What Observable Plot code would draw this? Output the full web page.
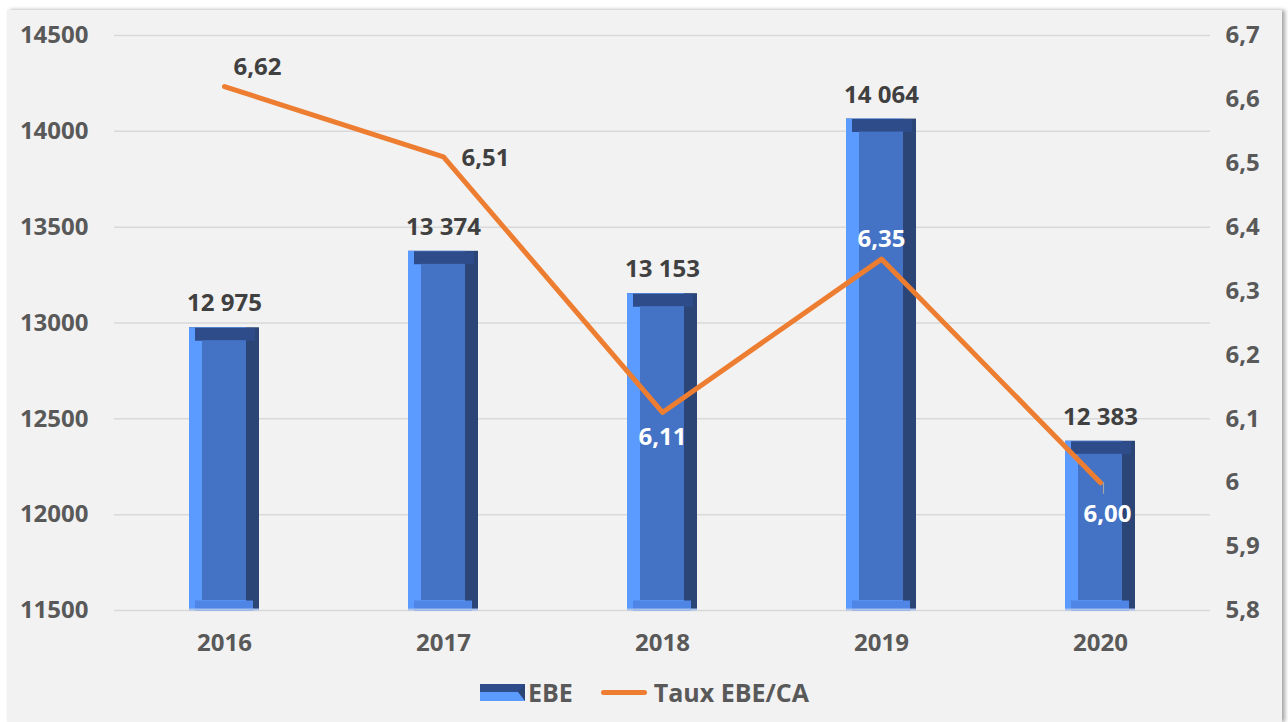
<!DOCTYPE html>
<html><head><meta charset="utf-8">
<script src="https://cdn.jsdelivr.net/npm/d3@7"></script>
<script src="https://cdn.jsdelivr.net/npm/@observablehq/plot@0.6"></script>
<style>
html,body{margin:0;padding:0;background:#fff;}
#panel{position:absolute;left:7px;top:10px;width:1275px;height:712px;background:#f2f2f2;box-shadow:3px 0 4px rgba(0,0,0,0.35);font-family:"Open Sans",sans-serif;overflow:hidden;}
#chart{position:absolute;left:0;top:0;}
#legend{position:absolute;left:0;top:663px;width:1275px;height:38px;display:flex;justify-content:center;align-items:center;font-size:25px;font-weight:bold;color:#595959;}
.sw{display:inline-block;box-sizing:border-box;width:45px;height:17px;border-top:8px solid #2e4c8a;border-bottom:9px solid #5b9bff;border-right:7px solid #2a4576;margin-right:3px;}
.ln{display:inline-block;width:46px;height:5px;border-radius:3px;background:#ed7d31;margin-left:28px;margin-right:7px;}
</style></head>
<body>
<div id="panel"><div id="chart"></div>
<div id="legend"><span class="sw"></span><span>EBE</span><span class="ln"></span><span>Taux EBE/CA</span></div>
</div>
<script>
const years = ["2016", "2017", "2018", "2019", "2020"];
const ebe = [12975, 13374, 13153, 14064, 12383];
const taux = [6.62, 6.51, 6.11, 6.35, 6.00];
const leftTicks = [11500, 12000, 12500, 13000, 13500, 14000, 14500];
const rightTicks = [5.8, 5.9, 6.0, 6.1, 6.2, 6.3, 6.4, 6.5, 6.6, 6.7];

const L = [11500, 14500], R = [5.8, 6.7];
const toLeft = v => L[0] + (v - R[0]) / (R[1] - R[0]) * (L[1] - L[0]);
const fromLeft = v => R[0] + (v - L[0]) / (L[1] - L[0]) * (R[1] - R[0]);
const data = years.map((year, i) => ({year, ebe: ebe[i], taux: taux[i], tauxL: toLeft(taux[i]), i}));

const fmtRight = v => { const r = Math.round(v * 10) / 10; return String(r).replace(".", ","); };
const fmtRate = v => d3.format(".2f")(v).replace(".", ",");
const fmtEbe = v => d3.format(",")(v).replace(/,/g, " ");

const dark = "#404040";
const lbl = {fontSize: 24, fontWeight: "bold"};

const chart = Plot.plot({
  width: 1275, height: 660,
  marginLeft: 107, marginRight: 72, marginTop: 25, marginBottom: 60,
  style: {fontFamily: "'Open Sans', sans-serif", fontSize: "24px", fontWeight: "bold", color: "#595959", background: "transparent"},
  x: {domain: years, paddingInner: 0.68, paddingOuter: 0.34, label: null},
  y: {domain: L, label: null},
  marks: [
    Plot.gridY(leftTicks, {stroke: "#d9d9d9", strokeOpacity: 1, strokeWidth: 1.5}),
    // bevelled bars
    Plot.barY(data, {x: "year", y1: L[0], y2: "ebe", fill: "#2a4576"}),
    Plot.barY(data, {x: "year", y1: L[0], y2: "ebe", fill: "#5b9bff", insetRight: 13}),
    Plot.tickY(data, {x: "year", y: "ebe", stroke: "#2e4c8a", strokeWidth: 13, dy: 6.5, insetLeft: 6, insetRight: 4}),
    Plot.tickY(data, {x: "year", y: L[0], stroke: "#4f86e6", strokeWidth: 10, dy: -5, insetLeft: 6, insetRight: 6}),
    Plot.barY(data, {x: "year", y1: L[0], y2: "ebe", fill: "#4472c4", insetLeft: 13, insetRight: 13, insetTop: 13, insetBottom: 10}),
    Plot.tickY(data, {x: "year", y: L[0], stroke: "#a9c1ee", strokeWidth: 2, dy: -1}),
    // axes
    Plot.axisY(leftTicks, {anchor: "left", tickSize: 0, tickPadding: 26, tickFormat: d => String(d), label: null}),
    Plot.axisY(rightTicks.map(toLeft), {anchor: "right", tickSize: 0, tickPadding: 15, tickFormat: d => fmtRight(fromLeft(d)), label: null}),
    Plot.axisX({tickSize: 0, tickPadding: 23, label: null}),
    // line
    Plot.line(data, {x: "year", y: "tauxL", stroke: "#ed7d31", strokeWidth: 5, strokeLinecap: "round", strokeLinejoin: "round"}),
    Plot.ruleX(data.filter(d => d.i === 4), {x: "year", y1: d => d.tauxL, y2: d => d.tauxL - 60, stroke: "#a6a6a6", strokeWidth: 1.2, dx: 3}),
    // bar labels
    Plot.text(data, {x: "year", y: "ebe", text: d => fmtEbe(d.ebe), dy: -24, fill: dark, ...lbl}),
    // rate labels
    Plot.text(data.filter(d => d.i === 0), {x: "year", y: "tauxL", text: d => fmtRate(d.taux), textAnchor: "start", dx: 9, dy: -19, fill: dark, ...lbl}),
    Plot.text(data.filter(d => d.i === 1), {x: "year", y: "tauxL", text: d => fmtRate(d.taux), textAnchor: "start", dx: 18, dy: 1, fill: dark, ...lbl}),
    Plot.text(data.filter(d => d.i === 2), {x: "year", y: "tauxL", text: d => fmtRate(d.taux), dy: 25, fill: "white", ...lbl}),
    Plot.text(data.filter(d => d.i === 3), {x: "year", y: "tauxL", text: d => fmtRate(d.taux), dy: -20, fill: "white", ...lbl}),
    Plot.text(data.filter(d => d.i === 4), {x: "year", y: "tauxL", text: d => fmtRate(d.taux), dx: 7, dy: 32, fill: "white", ...lbl})
  ]
});
document.getElementById("chart").appendChild(chart);
</script>
</body></html>
